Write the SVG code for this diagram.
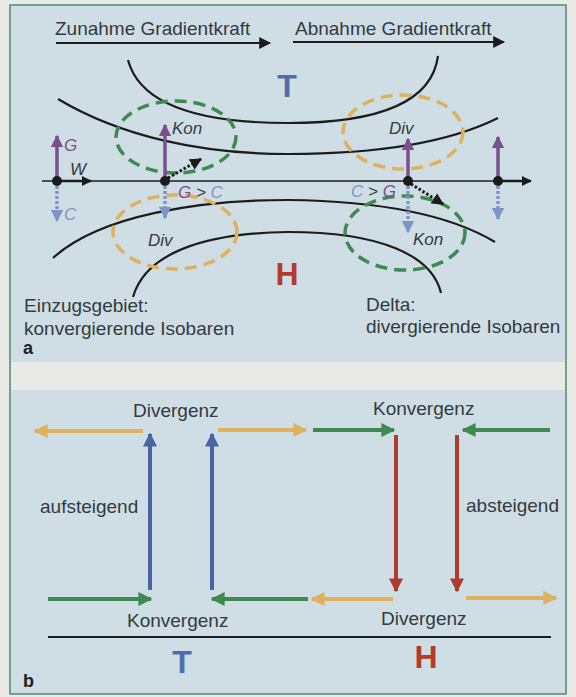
<svg xmlns="http://www.w3.org/2000/svg" width="576" height="697" viewBox="0 0 576 697">
  <style>
    .txt { font-family: "Liberation Sans", Arial, sans-serif; font-size: 19px; fill: #333b40; }
    .it { font-style: italic; font-size: 17px; }
    .big { font-family: "Liberation Sans", Arial, sans-serif; font-size: 32px; font-weight: bold; text-anchor: middle; }
    .lbl { font-family: "Liberation Sans", Arial, sans-serif; font-size: 18px; font-weight: bold; fill: #222; }
    .iso { fill: none; stroke: #1c1c1c; stroke-width: 2.2; }
    .ell-g { fill: none; stroke: #3f8a50; stroke-width: 3.5; stroke-dasharray: 12 7; }
    .ell-o { fill: none; stroke: #dfb15e; stroke-width: 3.5; stroke-dasharray: 12 7; }
  </style>
  <defs>
    <marker id="hBlack" viewBox="0 0 10 10" refX="9" refY="5" markerWidth="6" markerHeight="6" markerUnits="strokeWidth" orient="auto"><path d="M0,0 L10,5 L0,10 Z" fill="#1c1c1c"/></marker>
    <marker id="hBlackS" viewBox="0 0 10 10" refX="9" refY="5" markerWidth="4" markerHeight="4" markerUnits="strokeWidth" orient="auto"><path d="M0,0 L10,5 L0,10 Z" fill="#1c1c1c"/></marker>
    <marker id="hPurple" viewBox="0 0 10 10" refX="9" refY="5" markerWidth="3.5" markerHeight="3.5" markerUnits="strokeWidth" orient="auto"><path d="M0,0 L10,5 L0,10 Z" fill="#7a4f8c"/></marker>
    <marker id="hLblue" viewBox="0 0 10 10" refX="9" refY="5" markerWidth="3.5" markerHeight="3.5" markerUnits="strokeWidth" orient="auto"><path d="M0,0 L10,5 L0,10 Z" fill="#7d95c6"/></marker>
    <marker id="hBlue" viewBox="0 0 10 10" refX="9" refY="5" markerWidth="3.5" markerHeight="3.5" markerUnits="strokeWidth" orient="auto"><path d="M0,0 L10,5 L0,10 Z" fill="#4a64a4"/></marker>
    <marker id="hRed" viewBox="0 0 10 10" refX="9" refY="5" markerWidth="3.5" markerHeight="3.5" markerUnits="strokeWidth" orient="auto"><path d="M0,0 L10,5 L0,10 Z" fill="#ad3b2e"/></marker>
    <marker id="hGreen" viewBox="0 0 10 10" refX="9" refY="5" markerWidth="3.5" markerHeight="3.5" markerUnits="strokeWidth" orient="auto"><path d="M0,0 L10,5 L0,10 Z" fill="#3f8a50"/></marker>
    <marker id="hOrange" viewBox="0 0 10 10" refX="9" refY="5" markerWidth="3.5" markerHeight="3.5" markerUnits="strokeWidth" orient="auto"><path d="M0,0 L10,5 L0,10 Z" fill="#dfb15e"/></marker>
  </defs>

  <!-- page and panels -->
  <rect x="0" y="0" width="576" height="697" fill="#e9eae5"/>
  <rect x="10" y="5" width="556" height="357" fill="#cfdde4"/>
  <rect x="10" y="390" width="556" height="304" fill="#cfdde4"/>
  <rect x="10" y="5" width="556" height="689" fill="none" stroke="#4f8a6c" stroke-width="1.5"/>

  <!-- ===== panel a ===== -->
  <g id="gradient-labels">
    <text class="txt" x="55" y="35">Zunahme Gradientkraft</text>
    <text class="txt" x="295" y="35">Abnahme Gradientkraft</text>
  </g>

  <g id="isobars">
    <path class="iso" d="M128,60 C140,105 200,123 288,123 C380,123 432,102 438,56"/>
    <path class="iso" d="M58,99 C120,136 200,154 288,154 C380,154 450,142 498,118"/>
    <path class="iso" d="M53,258 C100,215 200,200 288,200 C380,201 450,215 495,242"/>
    <path class="iso" d="M133,297 C145,255 200,233 288,232 C380,232 432,255 441,293"/>
  </g>

  <g id="zones">
    <ellipse id="kon-upper" class="ell-g" cx="176" cy="137" rx="60" ry="36"/>
    <ellipse id="div-upper" class="ell-o" cx="403" cy="132" rx="60" ry="37"/>
    <ellipse id="div-lower" class="ell-o" cx="175" cy="232" rx="62" ry="37"/>
    <ellipse id="kon-lower" class="ell-g" cx="405" cy="233" rx="60" ry="37"/>
    <text class="txt it" x="172" y="134">Kon</text>
    <text class="txt it" x="389" y="134">Div</text>
    <text class="txt it" x="148" y="246">Div</text>
    <text class="txt it" x="413" y="245">Kon</text>
  </g>

  <g id="connectors">
    <!-- gradient force arrows -->
    <line x1="56" y1="43" x2="270" y2="43" stroke="#1c1c1c" stroke-width="2" marker-end="url(#hBlack)"/>
    <line x1="293" y1="42" x2="504" y2="42" stroke="#1c1c1c" stroke-width="2" marker-end="url(#hBlack)"/>
    <!-- flow axis -->
    <line x1="42" y1="181" x2="528" y2="181" stroke="#1c1c1c" stroke-width="1.3"/>
    <line x1="57" y1="181" x2="91" y2="181" stroke="#1c1c1c" stroke-width="2.5" marker-end="url(#hBlackS)"/>
    <line x1="498" y1="181" x2="531" y2="181" stroke="#1c1c1c" stroke-width="2.5" marker-end="url(#hBlackS)"/>
    <!-- pressure gradient force G -->
    <line x1="57" y1="181" x2="57" y2="136" stroke="#7a4f8c" stroke-width="3.5" marker-end="url(#hPurple)"/>
    <line x1="165" y1="181" x2="165" y2="125" stroke="#7a4f8c" stroke-width="3.5" marker-end="url(#hPurple)"/>
    <line x1="408" y1="181" x2="408" y2="139" stroke="#7a4f8c" stroke-width="3.5" marker-end="url(#hPurple)"/>
    <line x1="498" y1="181" x2="498" y2="137" stroke="#7a4f8c" stroke-width="3.5" marker-end="url(#hPurple)"/>
    <!-- Coriolis force C -->
    <line x1="57" y1="181" x2="57" y2="221" stroke="#7d95c6" stroke-width="3.5" stroke-dasharray="3 2" marker-end="url(#hLblue)"/>
    <line x1="165" y1="181" x2="165" y2="218" stroke="#7d95c6" stroke-width="3.5" stroke-dasharray="3 2" marker-end="url(#hLblue)"/>
    <line x1="408" y1="181" x2="408" y2="232" stroke="#7d95c6" stroke-width="3.5" stroke-dasharray="3 2" marker-end="url(#hLblue)"/>
    <line x1="498" y1="181" x2="498" y2="219" stroke="#7d95c6" stroke-width="3.5" stroke-dasharray="3 2" marker-end="url(#hLblue)"/>
    <!-- resulting deflection -->
    <line x1="168" y1="178" x2="201" y2="159" stroke="#1c1c1c" stroke-width="3" stroke-dasharray="2.5 2" marker-end="url(#hBlackS)"/>
    <line x1="411" y1="184" x2="443" y2="204" stroke="#1c1c1c" stroke-width="3" stroke-dasharray="2.5 2" marker-end="url(#hBlackS)"/>

    <!-- ===== panel b ===== -->
    <line x1="143" y1="431" x2="35" y2="431" stroke="#dfb15e" stroke-width="4" marker-end="url(#hOrange)"/>
    <line x1="218" y1="430" x2="306" y2="430" stroke="#dfb15e" stroke-width="4" marker-end="url(#hOrange)"/>
    <line x1="313" y1="430" x2="394" y2="430" stroke="#3f8a50" stroke-width="4" marker-end="url(#hGreen)"/>
    <line x1="550" y1="430" x2="463" y2="430" stroke="#3f8a50" stroke-width="4" marker-end="url(#hGreen)"/>
    <line x1="150" y1="590" x2="150" y2="434" stroke="#4a64a4" stroke-width="4" marker-end="url(#hBlue)"/>
    <line x1="212" y1="590" x2="212" y2="434" stroke="#4a64a4" stroke-width="4" marker-end="url(#hBlue)"/>
    <line x1="396" y1="435" x2="396" y2="591" stroke="#ad3b2e" stroke-width="4" marker-end="url(#hRed)"/>
    <line x1="457" y1="435" x2="457" y2="591" stroke="#ad3b2e" stroke-width="4" marker-end="url(#hRed)"/>
    <line x1="48" y1="599" x2="151" y2="599" stroke="#3f8a50" stroke-width="4" marker-end="url(#hGreen)"/>
    <line x1="308" y1="599" x2="212" y2="599" stroke="#3f8a50" stroke-width="4" marker-end="url(#hGreen)"/>
    <line x1="393" y1="599" x2="312" y2="599" stroke="#dfb15e" stroke-width="4" marker-end="url(#hOrange)"/>
    <line x1="466" y1="598" x2="556" y2="598" stroke="#dfb15e" stroke-width="4" marker-end="url(#hOrange)"/>
    <line x1="48" y1="637" x2="551" y2="637" stroke="#1c1c1c" stroke-width="2"/>
  </g>

  <g id="points">
    <circle cx="57" cy="181" r="5" fill="#1c1c1c"/>
    <circle cx="165" cy="181" r="5" fill="#1c1c1c"/>
    <circle cx="408" cy="181" r="5" fill="#1c1c1c"/>
    <circle cx="498" cy="181" r="5" fill="#1c1c1c"/>
  </g>

  <g id="force-labels">
    <text class="txt it" x="64" y="151" style="fill:#7a4f8c">G</text>
    <text class="txt it" x="70" y="175">W</text>
    <text class="txt it" x="64" y="220" style="fill:#7d95c6">C</text>
    <text class="txt it" x="178" y="198"><tspan style="fill:#7a4f8c">G</tspan> &gt; <tspan style="fill:#7d95c6">C</tspan></text>
    <text class="txt it" x="351" y="197"><tspan style="fill:#7d95c6">C</tspan> &gt; <tspan style="fill:#7a4f8c">G</tspan></text>
  </g>

  <g id="pressure-a">
    <text class="big" x="287" y="97" fill="#4f6ea8">T</text>
    <text class="big" x="287" y="285" fill="#b63a2c">H</text>
  </g>

  <g id="captions-a">
    <text class="txt" x="24" y="312">Einzugsgebiet:</text>
    <text class="txt" x="24" y="335">konvergierende Isobaren</text>
    <text class="txt" x="366" y="311">Delta:</text>
    <text class="txt" x="366" y="333">divergierende Isobaren</text>
    <text class="lbl" x="23" y="354">a</text>
  </g>

  <!-- ===== panel b ===== -->
  <g id="labels-b">
    <text class="txt" x="133" y="417">Divergenz</text>
    <text class="txt" x="373" y="415">Konvergenz</text>
    <text class="txt" x="40" y="513">aufsteigend</text>
    <text class="txt" x="466" y="512">absteigend</text>
    <text class="txt" x="127" y="627">Konvergenz</text>
    <text class="txt" x="381" y="625">Divergenz</text>
    <text class="big" x="182" y="673" fill="#4f6ea8">T</text>
    <text class="big" x="426" y="668" fill="#b63a2c">H</text>
    <text class="lbl" x="23" y="687">b</text>
  </g>
</svg>
